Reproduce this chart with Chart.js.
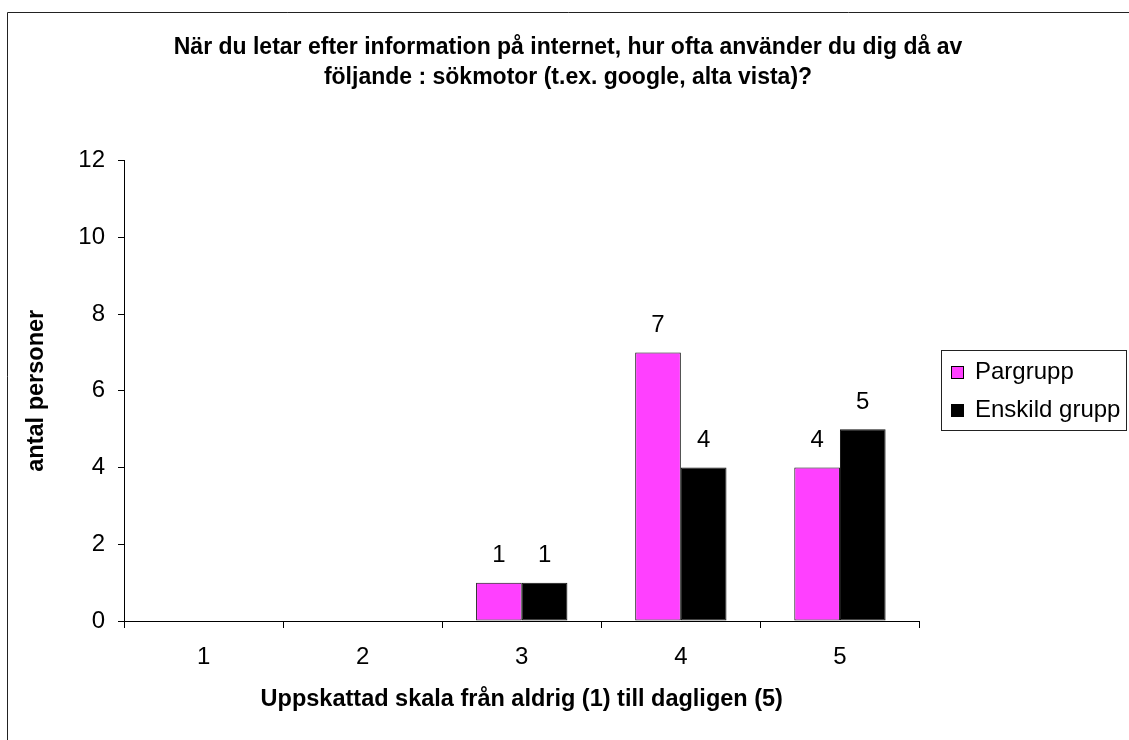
<!DOCTYPE html>
<html>
<head>
<meta charset="utf-8">
<script src="https://cdn.jsdelivr.net/npm/chart.js@4.4.1/dist/chart.umd.min.js"></script>
<style>
  html, body { margin: 0; padding: 0; background: #fff; }
  #wrap { width: 1129px; height: 740px; position: relative; }
  canvas { display: block; }
</style>
</head>
<body>
<div id="wrap"><canvas id="c" width="1129" height="740"></canvas></div>
<script>
// Survey answers: how often a search engine is used, per group
const categories = ['1', '2', '3', '4', '5'];
const pargrupp = [0, 0, 1, 7, 4];
const enskildGrupp = [0, 0, 1, 4, 5];
const seriesNames = ['Pargrupp', 'Enskild grupp'];
const yTicks = [0, 2, 4, 6, 8, 10, 12];

const titleLines = [
  'När du letar efter information på internet, hur ofta använder du dig då av',
  'följande : sökmotor (t.ex. google, alta vista)?'
];
const xTitle = 'Uppskattad skala från aldrig (1) till dagligen (5)';
const yTitle = 'antal personer';

const FONT = "'Liberation Sans', Arial, Helvetica, sans-serif";
const PINK = '#ff40ff';
const BLACK = '#000000';

// White page with the left/top frame line
const framePlugin = {
  id: 'frame',
  beforeDraw(chart) {
    const ctx = chart.ctx;
    ctx.save();
    ctx.fillStyle = '#ffffff';
    ctx.fillRect(0, 0, chart.width, chart.height);
    ctx.strokeStyle = '#222222';
    ctx.lineWidth = 1;
    ctx.beginPath();
    ctx.moveTo(7.5, chart.height);
    ctx.lineTo(7.5, 12.5);
    ctx.lineTo(chart.width, 12.5);
    ctx.stroke();
    ctx.restore();
  }
};

// Two-line bold heading above the plot
const headingPlugin = {
  id: 'heading',
  afterDraw(chart) {
    const ctx = chart.ctx;
    ctx.save();
    ctx.fillStyle = BLACK;
    ctx.font = 'bold 23px ' + FONT;
    ctx.textAlign = 'center';
    ctx.textBaseline = 'middle';
    titleLines.forEach((line, i) => ctx.fillText(line, 568, 48 + i * 30));
    ctx.restore();
  }
};

// Value labels above each non-zero bar
const valueLabelPlugin = {
  id: 'valueLabels',
  afterDatasetsDraw(chart) {
    const ctx = chart.ctx;
    ctx.save();
    ctx.fillStyle = BLACK;
    ctx.font = '24px ' + FONT;
    ctx.textAlign = 'center';
    ctx.textBaseline = 'middle';
    chart.data.datasets.forEach((ds, di) => {
      const meta = chart.getDatasetMeta(di);
      meta.data.forEach((bar, i) => {
        const v = ds.data[i];
        if (!v) return;
        ctx.fillText(String(v), bar.x, bar.y - 27);
      });
    });
    ctx.restore();
  }
};

// Boxed legend on the right
const legendBoxPlugin = {
  id: 'legendBox',
  afterDraw(chart) {
    const ctx = chart.ctx;
    const box = { x: 941.5, y: 350.5, w: 185, h: 80 };
    ctx.save();
    ctx.strokeStyle = '#222222';
    ctx.lineWidth = 1;
    ctx.strokeRect(box.x, box.y, box.w, box.h);
    ctx.font = '24px ' + FONT;
    ctx.textAlign = 'left';
    ctx.textBaseline = 'middle';
    chart.data.datasets.forEach((ds, i) => {
      const cy = 372 + i * 38;
      ctx.fillStyle = ds.backgroundColor;
      ctx.fillRect(951, cy - 6, 13, 13);
      ctx.strokeStyle = BLACK;
      ctx.strokeRect(951.5, cy - 5.5, 12, 12);
      ctx.fillStyle = BLACK;
      ctx.fillText(ds.label, 975, cy);
    });
    ctx.restore();
  }
};

const barStyle = { borderColor: '#111111', borderWidth: 1, borderSkipped: false,
                   categoryPercentage: 0.574, barPercentage: 1.0 };

new Chart(document.getElementById('c'), {
  type: 'bar',
  data: {
    labels: categories,
    datasets: [
      Object.assign({ label: seriesNames[0], data: pargrupp, backgroundColor: PINK }, barStyle),
      Object.assign({ label: seriesNames[1], data: enskildGrupp, backgroundColor: BLACK }, barStyle)
    ]
  },
  options: {
    responsive: false,
    animation: false,
    devicePixelRatio: 1,
    layout: { padding: { top: 160.5, right: 209.5, left: 0, bottom: 0 } },
    plugins: {
      legend: { display: false },
      title: { display: false },
      tooltip: { enabled: false }
    },
    scales: {
      x: {
        grid: { display: true, drawOnChartArea: false, offset: true, tickLength: 7, color: BLACK, lineWidth: 1 },
        border: { display: true, color: BLACK, width: 1 },
        ticks: { color: BLACK, font: { family: FONT, size: 24 }, padding: 15, maxRotation: 0 },
        title: { display: true, text: xTitle, color: BLACK,
                 font: { family: FONT, size: 23.5, weight: 'bold' }, padding: { top: 0, bottom: 26 } },
        afterFit(scale) { scale.height = 119; }
      },
      y: {
        min: yTicks[0],
        max: yTicks[yTicks.length - 1],
        grid: { display: true, drawOnChartArea: false, tickLength: 6, color: BLACK, lineWidth: 1 },
        border: { display: true, color: BLACK, width: 1 },
        ticks: { stepSize: yTicks[1] - yTicks[0], color: BLACK, font: { family: FONT, size: 24 }, padding: 13 },
        title: { display: true, text: yTitle, color: BLACK,
                 font: { family: FONT, size: 23.5, weight: 'bold' }, padding: { top: 22, bottom: 0 } },
        afterFit(scale) { scale.width = 124; }
      }
    }
  },
  plugins: [framePlugin, valueLabelPlugin, headingPlugin, legendBoxPlugin]
});
</script>
</body>
</html>
